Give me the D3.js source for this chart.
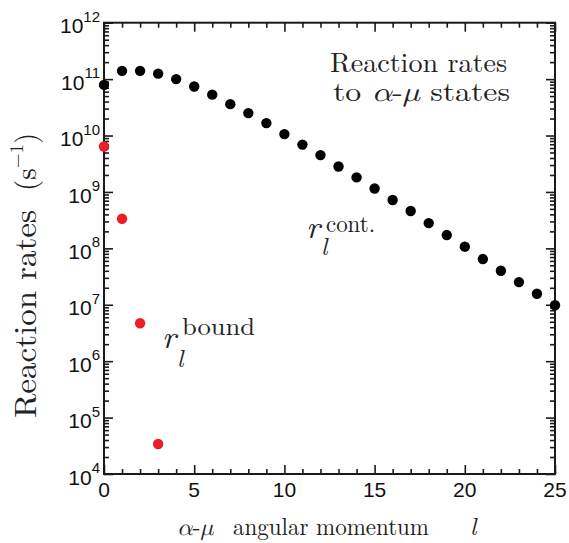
<!DOCTYPE html>
<html>
<head>
<meta charset="utf-8">
<script src="https://cdn.jsdelivr.net/npm/d3@7"></script>
<style>
  html, body { margin: 0; padding: 0; background: #fff; }
  svg { display: block; }
</style>
</head>
<body>
<svg id="chart" width="569" height="543"></svg>
<script>
// ---- data ----
const lValues = d3.range(0, 26);
const contRates = [7.9e10, 1.4e11, 1.4e11, 1.25e11, 1.0e11, 7.4e10, 5.3e10, 3.6e10, 2.5e10, 1.66e10,
                   1.06e10, 6.9e9, 4.5e9, 2.83e9, 1.81e9, 1.15e9, 7.2e8, 4.6e8, 2.8e8, 1.72e8,
                   1.07e8, 6.46e7, 4.0e7, 2.52e7, 1.57e7, 9.8e6];
const boundL = [0, 1, 2, 3];
const boundRates = [6.4e9, 3.35e8, 4.7e6, 3.4e4];
const xTickLabels = [0, 5, 10, 15, 20, 25];
const yExponents = [4, 5, 6, 7, 8, 9, 10, 11, 12];

// ---- layout ----
const L = 104, R = 555, T = 22.7, B = 474;
const svg = d3.select("#chart");
const x = d3.scaleLinear().domain([0, 25]).range([L, R]);
const y = d3.scaleLog().domain([1e4, 1e12]).range([B, T]);
const axisColor = "#1a1a1a";
const SERIF = '"Latin Modern Roman", "Liberation Serif", monospace';
const GREEK = '"Latin Modern Math", "Liberation Serif", monospace';
const SANS = '"Liberation Sans", "Noto Sans", monospace';
const txtColor = "#222";

const yMinor = [];
for (let e = 4; e < 12; e++) for (let m = 2; m <= 9; m++) yMinor.push(m * Math.pow(10, e));
const yMajor = yExponents.map(e => Math.pow(10, e));

function styleAxis(g) {
  g.select(".domain").remove();
  g.selectAll(".tick line").attr("stroke", axisColor).attr("stroke-width", 1.6);
  g.selectAll(".tick text").remove();
}

const xMinorVals = lValues.filter(v => v % 5 !== 0);
const xMajorVals = lValues.filter(v => v % 5 === 0);
[[d3.axisBottom, B, -1], [d3.axisTop, T, 1]].forEach(([fn, pos, s]) => {
  svg.append("g").attr("transform", `translate(0,${pos})`)
    .call(fn(x).tickValues(xMinorVals).tickFormat(""))
    .call(styleAxis)
    .selectAll(".tick line").attr("y2", s * 5);
  svg.append("g").attr("transform", `translate(0,${pos})`)
    .call(fn(x).tickValues(xMajorVals).tickFormat(""))
    .call(styleAxis)
    .selectAll(".tick line").attr("y2", s * 9);
});
[[d3.axisLeft, L, 1], [d3.axisRight, R, -1]].forEach(([fn, pos, s]) => {
  svg.append("g").attr("transform", `translate(${pos},0)`)
    .call(fn(y).tickValues(yMinor).tickFormat(""))
    .call(styleAxis)
    .selectAll(".tick line").attr("x2", s * 5);
  svg.append("g").attr("transform", `translate(${pos},0)`)
    .call(fn(y).tickValues(yMajor).tickFormat(""))
    .call(styleAxis)
    .selectAll(".tick line").attr("x2", s * 9);
});

svg.append("rect").attr("x", L).attr("y", T).attr("width", R - L).attr("height", B - T)
  .attr("fill", "none").attr("stroke", axisColor).attr("stroke-width", 2);

// x tick labels
svg.append("g").selectAll("text").data(xTickLabels).join("text")
  .style("font-family", SANS)
  .attr("x", d => x(d)).attr("y", B + 23)
  .attr("text-anchor", "middle")
  .attr("font-size", 21).attr("fill", "#111")
  .text(d => d);

// y tick labels 10^n
const yl = svg.append("g").selectAll("text").data(yExponents).join("text")
  .style("font-family", SANS)
  .attr("x", 100).attr("y", d => y(Math.pow(10, d)) + 10.6)
  .attr("text-anchor", "end")
  .attr("font-size", 21).attr("fill", "#111");
yl.append("tspan").text("10");
yl.append("tspan").attr("dy", -11.6).attr("font-size", 15).text(d => d);

// data points
svg.append("g").selectAll("circle").data(lValues).join("circle")
  .attr("cx", d => x(d)).attr("cy", (d, i) => y(contRates[i])).attr("r", 5.2)
  .attr("fill", "#000");
svg.append("g").selectAll("circle").data(boundL).join("circle")
  .attr("cx", d => x(d)).attr("cy", (d, i) => y(boundRates[i])).attr("r", 5.2)
  .attr("fill", "#ee1c25");

// helper: "α-μ"
function alphaMu(sel) {
  sel.append("tspan").style("font-family", GREEK).attr("font-style", "italic").text("α");
  sel.append("tspan").text("-");
  sel.append("tspan").style("font-family", GREEK).attr("font-style", "italic").text("μ");
}

// x axis title
const xa = svg.append("text").style("font-family", SERIF).attr("x", 177).attr("y", 535)
  .attr("font-size", 24).attr("fill", txtColor);
alphaMu(xa);
svg.append("text").style("font-family", SERIF).attr("x", 233).attr("y", 535)
  .attr("font-size", 24).attr("fill", txtColor)
  .attr("textLength", 196).attr("lengthAdjust", "spacingAndGlyphs")
  .text("angular momentum");
svg.append("text").style("font-family", SERIF).attr("x", 470).attr("y", 535)
  .attr("font-size", 25).attr("font-style", "italic").attr("fill", txtColor).text("l");

// y axis title
svg.append("text").style("font-family", SERIF).attr("transform", "translate(36,418) rotate(-90)")
  .attr("font-size", 31).attr("fill", txtColor)
  .attr("textLength", 208).attr("lengthAdjust", "spacingAndGlyphs")
  .text("Reaction rates");
const yu = svg.append("text").style("font-family", SERIF).attr("transform", "translate(36,191) rotate(-90)")
  .attr("font-size", 29).attr("fill", txtColor);
yu.append("tspan").text("(s");
yu.append("tspan").attr("dy", -13).attr("font-size", 19).text("−1");
yu.append("tspan").attr("dy", 13).text(")");

// annotation
svg.append("text").style("font-family", SERIF).attr("x", 330).attr("y", 72)
  .attr("font-size", 27).attr("fill", txtColor)
  .attr("textLength", 177).attr("lengthAdjust", "spacingAndGlyphs")
  .text("Reaction rates");
const a2 = svg.append("text").style("font-family", SERIF).attr("x", 333).attr("y", 101)
  .attr("font-size", 27).attr("fill", txtColor)
  .attr("textLength", 177).attr("lengthAdjust", "spacingAndGlyphs");
a2.append("tspan").text("to ");
alphaMu(a2);
a2.append("tspan").text(" states");

// r_l labels
function rLabel(xr, yb, sup, supLen, supDy, subDy) {
  const g = svg.append("g").attr("fill", txtColor);
  g.append("text").style("font-family", SERIF).attr("x", xr).attr("y", yb)
    .attr("font-style", "italic").attr("font-size", 33).text("r");
  g.append("text").style("font-family", SERIF).attr("x", xr + 20).attr("y", yb + supDy)
    .attr("font-size", 24)
    .attr("textLength", supLen).attr("lengthAdjust", "spacingAndGlyphs").text(sup);
  g.append("text").style("font-family", SERIF).attr("x", xr + 15).attr("y", yb + subDy)
    .attr("font-style", "italic").attr("font-size", 25).text("l");
}
rLabel(306, 238, "cont.", 49, -6, 17);
rLabel(162, 348, "bound", 73, -13, 19);
</script>
</body>
</html>
